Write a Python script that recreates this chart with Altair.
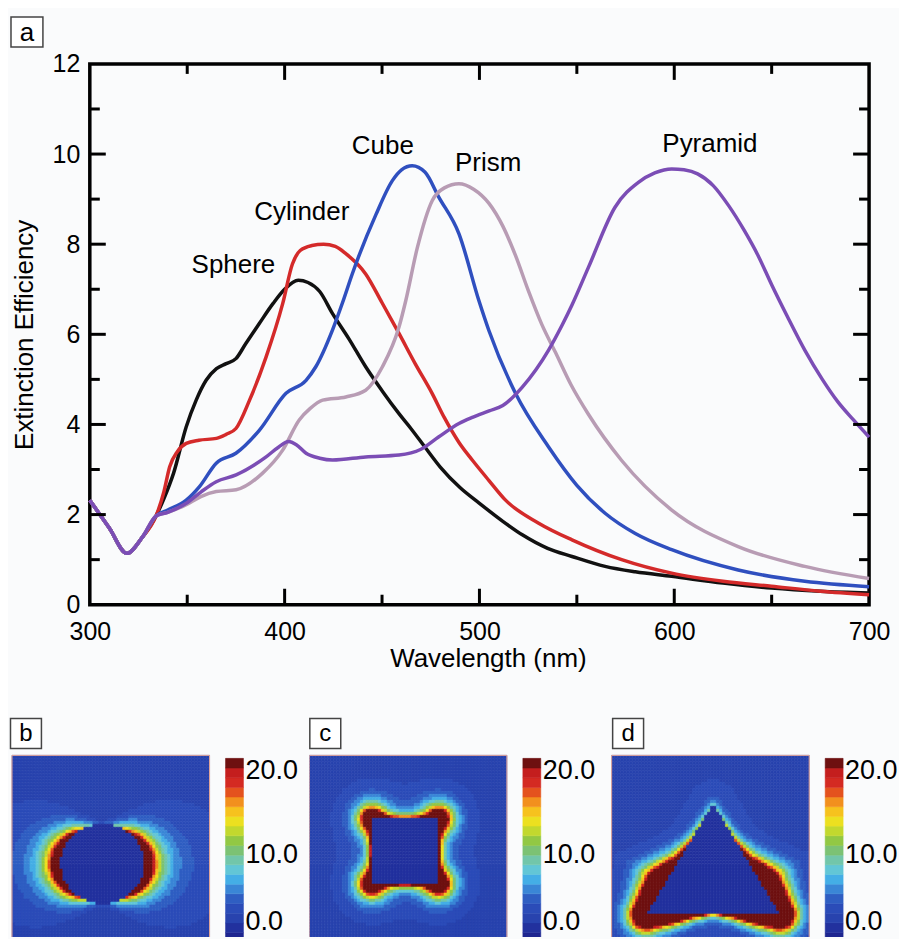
import numpy as np
import pandas as pd
import altair as alt

alt.data_transformers.disable_max_rows()

FONT = "Liberation Sans"

# ---------------------------------------------------------------- panel a data
SERIES = ["Sphere", "Cylinder", "Cube", "Prism", "Pyramid"]
SERIES_COLORS = ["#111111", "#d42a2a", "#2f4fbf", "#b89cb4", "#7b4db5"]

SPHERE_WL = [300, 310, 319, 327, 334, 338, 343, 349.5, 354.6, 359.7, 365, 370, 375, 380, 387, 394, 400,
             407, 412, 418, 424.6, 433, 441.6, 450, 458.7, 465, 472, 480, 490, 500, 512,
             522, 535, 547.5, 564.5, 580, 598.7, 625, 649.9, 675, 700]
SPHERE_EXT = [2.32, 1.7, 1.14, 1.5, 1.97, 2.35, 2.92, 3.95, 4.54, 4.98, 5.24, 5.35, 5.46, 5.79, 6.24, 6.68,
              7.0, 7.2, 7.15, 6.95, 6.46, 5.9, 5.28, 4.75, 4.24, 3.9, 3.5, 3.05, 2.6, 2.25, 1.85,
              1.55, 1.25, 1.07, 0.85, 0.73, 0.63, 0.48, 0.37, 0.3, 0.26]

CYLINDER_WL = [300, 310, 319, 327, 334, 338, 341, 345, 349.5, 356, 365, 370, 375, 382, 390.5, 399, 404, 408,
               414, 420, 426, 431.4, 441.6, 450, 458.7, 467, 475.7, 482, 489.5, 496.3, 505, 513.4, 530.4,
               547.5, 573, 598.7, 625, 649.9, 675, 700]
CYLINDER_EXT = [2.32, 1.7, 1.14, 1.5, 1.97, 2.5, 3.06, 3.4, 3.58, 3.65, 3.69, 3.78, 3.91, 4.54, 5.5, 6.68,
                7.56, 7.86, 7.97, 8.0, 7.95, 7.79, 7.34, 6.7, 6.02, 5.35, 4.69, 4.15, 3.6, 3.21, 2.75,
                2.32, 1.81, 1.44, 1.0, 0.7, 0.52, 0.41, 0.3, 0.22]

CUBE_WL = [300, 310, 319, 327, 334, 340, 349.5, 356.3, 364.9, 375, 387, 400.7, 411, 416, 424.6, 429.7,
           434.8, 446.8, 455.3, 460, 465.5, 472, 479.2, 489.5, 499.7, 504.8, 518.5, 535.5, 550, 564.5,
           580, 598.7, 632.8, 667, 700]
CUBE_EXT = [2.32, 1.7, 1.14, 1.5, 1.97, 2.1, 2.32, 2.62, 3.14, 3.36, 3.87, 4.69, 4.98, 5.28, 6.1, 6.7,
            7.35, 8.65, 9.41, 9.65, 9.74, 9.6, 9.04, 8.23, 6.75, 6.09, 4.69, 3.5, 2.65, 2.03, 1.58, 1.22,
            0.77, 0.52, 0.4]

PRISM_WL = [300, 310, 319, 327, 334, 340, 349.5, 357, 364.9, 375.1, 388.7, 399, 407.5, 413, 419.5, 431.4,
            441.6, 450.2, 458.7, 462.2, 468, 475.8, 482, 489.5, 497, 505, 512, 518.5, 525, 532,
            539, 547, 556, 573, 598.7, 632.8, 667, 700]
PRISM_EXT = [2.32, 1.7, 1.14, 1.5, 1.97, 2.05, 2.22, 2.4, 2.51, 2.55, 2.92, 3.43, 4.1, 4.35, 4.54, 4.61,
             4.76, 5.28, 6.16, 6.75, 7.9, 8.97, 9.25, 9.34, 9.22, 8.9, 8.4, 7.75, 6.98, 6.22,
             5.6, 4.88, 4.22, 3.2, 2.1, 1.29, 0.85, 0.58]

PYRAMID_WL = [300, 310, 319, 327, 334, 340, 349.5, 357, 364.9, 375.1, 390.5, 397, 402, 406, 411, 418,
              424.6, 441.6, 458.7, 470, 479, 489.5, 496, 505, 512, 522, 535.5, 542.4, 547.5, 556, 569.6,
              581.6, 590, 598.7, 605, 612, 620, 628, 636, 643, 650, 658, 667, 676, 684, 692, 700]
PYRAMID_EXT = [2.32, 1.7, 1.14, 1.5, 1.97, 2.05, 2.25, 2.5, 2.73, 2.88, 3.28, 3.5, 3.62, 3.55, 3.36, 3.25,
               3.21, 3.28, 3.32, 3.45, 3.72, 4.02, 4.15, 4.3, 4.42, 4.83, 5.65, 6.2, 6.65, 7.49, 8.82,
               9.37, 9.58, 9.67, 9.65, 9.56, 9.3, 8.85, 8.3, 7.75, 7.1, 6.4, 5.65, 5.0, 4.5, 4.1, 3.72]

ANNOT_TEXT = ["Sphere", "Cylinder", "Cube", "Prism", "Pyramid"]
ANNOT_WL = [373.7, 408.8, 450.4, 504.5, 618.3]
ANNOT_EXT = [7.37, 8.54, 10.0, 9.63, 10.04]

X_DOMAIN = [300, 700]
Y_DOMAIN = [0, 12]
X_LABELS = [300, 400, 500, 600, 700]
Y_LABELS = [0, 2, 4, 6, 8, 10, 12]
X_MAJOR_TICKS = [400, 500, 600]
X_MINOR_TICKS = [350, 450, 550, 650]
Y_MAJOR_TICKS = [2, 4, 6, 8, 10]
Y_MINOR_TICKS = [1, 3, 5, 7, 9, 11]

# ---------------------------------------------------------------- panels b-d data
CB_LEVELS = list(range(0, 20))
CB_COLORS = ["#1b1f7e", "#1e2690", "#22319e", "#2843ae", "#2b4cb8", "#2f5ec2", "#3a86d6", "#44aee6",
             "#62c6d6", "#72c6aa", "#7cc274", "#92c844", "#c2d82e", "#ece020", "#f6c21e", "#f2901e",
             "#e4521e", "#d42a22", "#c41e1e", "#6e1010"]
CB_TICKS = [0, 10, 20]
CB_TICK_TEXT = ["0.0", "10.0", "20.0"]

BACKGROUND = 3.6   # far-field level
INTERIOR = 2.5     # inside the particle
HALO_AMP, HALO_LEN = 2.0, 15.0

# geometry (pixel units inside the map, y downwards)
SPHERE_CENTER = (91.0, 109.0)
SPHERE_RADII = (42.0, 40.0)
SPHERE_GAIN = 2.8

SQUARE = (63.0, 130.0, 64.0, 129.0)        # left, right, top, bottom
CUBE_EDGE_AMP, CUBE_EDGE_LEN = 18.0, 3.5
CUBE_CORNER_AMP, CUBE_CORNER_LEN = 45.0, 8.0

TRIANGLE = [(102.0, 49.0), (35.3, 159.7), (168.7, 159.7)]   # apex, base-left, base-right
SIDE_T = [0.0, 0.1, 0.3, 0.5, 0.72, 1.0]
SIDE_AMP = [4, 6, 10, 24, 90, 98]
SIDE_LEN = [2.5, 3, 4, 8, 10.5, 7.6]
BASE_U = [0.0, 0.3, 0.6, 1.0]
BASE_AMP = [9, 25, 60, 98]
BASE_LEN = [3.5, 4.5, 6.0, 7.6]

N_COLS, N_ROWS = 66, 61
CELL_PX = 3.0

PX, PY = np.meshgrid((np.arange(N_COLS) + 0.5) * CELL_PX, (np.arange(N_ROWS) + 0.5) * CELL_PX)
JJ, II = np.meshgrid(np.arange(N_ROWS), np.arange(N_COLS), indexing="ij")


def sphere_field():
    cx, cy = SPHERE_CENTER
    rx, ry = SPHERE_RADII
    dx, dy = (PX - cx) / rx, (PY - cy) / ry
    r = np.maximum(np.hypot(dx, dy), 1e-6)
    c, s = dx / r, dy / r
    k = SPHERE_GAIN / r ** 3
    ex = 1 + k * (3 * c * c - 1)
    ey = 3 * k * c * s
    v = np.maximum(BACKGROUND - 1 + ex ** 2 + ey ** 2, 3.0)
    v = np.where(r < 1, INTERIOR, v)
    return np.clip(v, 0, 25)


def cube_field():
    l, r, t, b = SQUARE
    ox = np.maximum(np.maximum(l - PX, PX - r), 0)
    oy = np.maximum(np.maximum(t - PY, PY - b), 0)
    d = np.hypot(ox, oy)
    corner = sum(np.exp(-np.hypot(PX - x, PY - y) / CUBE_CORNER_LEN) for x in (l, r) for y in (t, b))
    v = (BACKGROUND + CUBE_EDGE_AMP * np.exp(-d / CUBE_EDGE_LEN) + CUBE_CORNER_AMP * corner
         + HALO_AMP * np.exp(-d / HALO_LEN))
    v = np.where(d == 0, INTERIOR, v)
    return np.clip(v, 0, 25)


def _segment(p0, p1):
    ax, ay = p0
    vx, vy = p1[0] - ax, p1[1] - ay
    t = np.clip(((PX - ax) * vx + (PY - ay) * vy) / (vx * vx + vy * vy), 0, 1)
    d = np.hypot(PX - (ax + t * vx), PY - (ay + t * vy))
    return t, d


def triangle_field():
    apex, bl, br = TRIANGLE
    tl, dl = _segment(apex, bl)
    tr, dr = _segment(apex, br)
    tb, db = _segment(bl, br)
    cl = np.interp(tl, SIDE_T, SIDE_AMP) * np.exp(-dl / np.interp(tl, SIDE_T, SIDE_LEN))
    cr = np.interp(tr, SIDE_T, SIDE_AMP) * np.exp(-dr / np.interp(tr, SIDE_T, SIDE_LEN))
    u = np.abs(2 * tb - 1)
    cb = np.interp(u, BASE_U, BASE_AMP) * np.exp(-db / np.interp(u, BASE_U, BASE_LEN))
    dmin = np.minimum(np.minimum(dl, dr), db)
    v = BACKGROUND + np.maximum(np.maximum(cl, cr), cb) + HALO_AMP * np.exp(-dmin / HALO_LEN)

    def cross(o, a):
        return (a[0] - o[0]) * (PY - o[1]) - (a[1] - o[1]) * (PX - o[0])
    s1, s2, s3 = cross(apex, bl), cross(bl, br), cross(br, apex)
    inside = ((s1 > 0) & (s2 > 0) & (s3 > 0)) | ((s1 < 0) & (s2 < 0) & (s3 < 0))
    v = np.where(inside, INTERIOR, v)
    return np.clip(v, 0, 25)


# ---------------------------------------------------------------- panel a chart
# the view spans from the panel-letter box to the right frame; the plot frame sits inside it
TOP_W, TOP_H = 861, 590
PX0, PX1, PY0, PY1 = 80, 861, 48, 590

rows = []
for name, wl, ext in zip(SERIES,
                         [SPHERE_WL, CYLINDER_WL, CUBE_WL, PRISM_WL, PYRAMID_WL],
                         [SPHERE_EXT, CYLINDER_EXT, CUBE_EXT, PRISM_EXT, PYRAMID_EXT]):
    for a, b in zip(wl, ext):
        rows.append({"shape": name, "wl": a, "ext": b})
curves = pd.DataFrame(rows)

xsc = alt.Scale(domain=X_DOMAIN, range=[PX0, PX1], nice=False, zero=False)
ysc = alt.Scale(domain=Y_DOMAIN, range=[PY1, PY0], nice=False, zero=False)

x_axis = alt.Axis(values=X_LABELS, title="Wavelength (nm)", domain=False, ticks=False, tickSize=0,
                  grid=False, labelFontSize=25, labelFont=FONT, labelPadding=15, labelFlush=False,
                  labelOverlap=False, labelColor="black", format="d",
                  titleFontSize=26, titleFont=FONT, titleFontWeight="normal", titleColor="black",
                  titleX=479, titleY=62, titleBaseline="alphabetic")
y_axis = alt.Axis(values=Y_LABELS, title="Extinction Efficiency", domain=False, ticks=False, tickSize=0,
                  grid=False, labelFontSize=25, labelFont=FONT, labelPadding=10, labelFlush=False,
                  labelOverlap=False, labelColor="black", format="d", offset=-PX0,
                  titleFontSize=26, titleFont=FONT, titleFontWeight="normal", titleColor="black",
                  titleX=-57, titleBaseline="alphabetic")

layers = []
frame_df = pd.DataFrame({"wl": [X_DOMAIN[0]], "wl2": [X_DOMAIN[1]], "ext": [Y_DOMAIN[0]], "ext2": [Y_DOMAIN[1]]})
layers.append(
    alt.Chart(frame_df).mark_rect(fillOpacity=0, stroke="black", strokeWidth=3.5).encode(
        x=alt.X("wl:Q", scale=xsc, axis=x_axis), x2="wl2:Q",
        y=alt.Y("ext:Q", scale=ysc, axis=y_axis), y2="ext2:Q")
)
for name, col in zip(SERIES, SERIES_COLORS):
    layers.append(
        alt.Chart(curves).transform_filter(alt.datum.shape == name)
        .mark_line(color=col, strokeWidth=3.5, interpolate="monotone")
        .encode(x=alt.X("wl:Q", scale=xsc), y=alt.Y("ext:Q", scale=ysc))
    )

annot = pd.DataFrame({"label": ANNOT_TEXT, "wl": ANNOT_WL, "ext": ANNOT_EXT})
layers.append(
    alt.Chart(annot).mark_text(font=FONT, fontSize=26, align="center", baseline="alphabetic", color="black")
    .encode(x=alt.X("wl:Q", scale=xsc), y=alt.Y("ext:Q", scale=ysc), text="label:N")
)


def xticks(vals, length, top):
    df = pd.DataFrame({"wl": vals})
    y0 = PY0 if top else PY1
    y1 = PY0 + length if top else PY1 - length
    return alt.Chart(df).mark_rule(color="black", strokeWidth=3).encode(
        x=alt.X("wl:Q", scale=xsc), y=alt.value(y0), y2=alt.value(y1))


def yticks(vals, length, right):
    df = pd.DataFrame({"ext": vals})
    x0 = PX1 if right else PX0
    x1 = PX1 - length if right else PX0 + length
    return alt.Chart(df).mark_rule(color="black", strokeWidth=3).encode(
        y=alt.Y("ext:Q", scale=ysc), x=alt.value(x0), x2=alt.value(x1))


for top in (False, True):
    layers.append(xticks(X_MAJOR_TICKS, 16, top))
    layers.append(xticks(X_MINOR_TICKS, 10, top))
for right in (False, True):
    layers.append(yticks(Y_MAJOR_TICKS, 16, right))
    layers.append(yticks(Y_MINOR_TICKS, 10, right))

one = alt.Data(values=[{"t": "a"}])
layers.append(alt.Chart(one).mark_rect(fill="white", stroke="#444444", strokeWidth=1.5).encode(
    x=alt.value(1), x2=alt.value(33), y=alt.value(1), y2=alt.value(31)))
layers.append(alt.Chart(one).mark_text(font=FONT, fontSize=26, align="center", baseline="alphabetic",
                                       color="black").encode(x=alt.value(17), y=alt.value(25), text="t:N"))

top_chart = alt.layer(*layers).properties(
    width=TOP_W, height=TOP_H, view=alt.ViewBackground(stroke="transparent", fill="transparent"))

# ---------------------------------------------------------------- panels b-d charts
cscale = alt.Scale(type="threshold", domain=CB_LEVELS[1:], range=CB_COLORS)
PANEL_W, PANEL_H = 290, 220
MAP_Y0 = 38
MAP_W, MAP_H = N_COLS * CELL_PX, N_ROWS * CELL_PX
CB_GAP, CB_THICK = 16, 18
cb_y = alt.Scale(domain=[0, 20], range=[235, 41], nice=False, zero=False)
cb_ticks = pd.DataFrame({"val": CB_TICKS, "txt": CB_TICK_TEXT})


def field_panel(letter, field, map_x0, box_x0):
    cb_x0 = map_x0 + MAP_W + CB_GAP
    cb_x1 = cb_x0 + CB_THICK
    df = pd.DataFrame({"i": II.ravel(), "j": JJ.ravel(), "v": np.round(field.ravel(), 2)})
    heat = alt.Chart(df).mark_rect(strokeWidth=0.6, clip=True).encode(
        x=alt.X("i:O", axis=None,
                scale=alt.Scale(paddingInner=0, paddingOuter=0, range=[map_x0, map_x0 + MAP_W])),
        y=alt.Y("j:O", axis=None,
                scale=alt.Scale(paddingInner=0, paddingOuter=0, range=[MAP_Y0, MAP_Y0 + MAP_H])),
        color=alt.Color("v:Q", scale=cscale, legend=None),
        stroke=alt.Stroke("v:Q", scale=cscale, legend=None),
    )
    cbdf = pd.DataFrame({"lo": CB_LEVELS, "hi": [l + 1 for l in CB_LEVELS],
                         "v": [l + 0.5 for l in CB_LEVELS]})
    cbar = alt.Chart(cbdf).mark_rect(strokeWidth=0.5, clip=True).encode(
        x=alt.value(cb_x0), x2=alt.value(cb_x1),
        y=alt.Y("lo:Q", scale=cb_y, axis=None),
        y2="hi:Q",
        color=alt.Color("v:Q", scale=cscale, legend=None),
        stroke=alt.Stroke("v:Q", scale=cscale, legend=None),
    )
    lab_layers = []
    for val, base, dy in ((20, "top", 0), (10, "middle", 0), (0, "bottom", -16)):
        lab_layers.append(
            alt.Chart(cb_ticks).transform_filter(alt.datum.val == val)
            .mark_text(font=FONT, fontSize=27, align="left", baseline=base, dy=dy, color="black")
            .encode(x=alt.value(cb_x1 + 2), y=alt.Y("val:Q", scale=cb_y, axis=None), text="txt:N")
        )
    lab = alt.Data(values=[{"t": letter}])
    frame = alt.Chart(lab).mark_rect(fillOpacity=0, stroke="#e8a898", strokeWidth=1, clip=True).encode(
        x=alt.value(map_x0), x2=alt.value(map_x0 + MAP_W), y=alt.value(MAP_Y0), y2=alt.value(PANEL_H + 4))
    box = alt.Chart(lab).mark_rect(fill="white", stroke="#444444", strokeWidth=1.5).encode(
        x=alt.value(box_x0), x2=alt.value(box_x0 + 31), y=alt.value(1), y2=alt.value(31))
    txt = alt.Chart(lab).mark_text(font=FONT, fontSize=24, align="center", baseline="alphabetic",
                                   color="black").encode(x=alt.value(box_x0 + 15.5), y=alt.value(24), text="t:N")
    return alt.layer(heat, cbar, *lab_layers, frame, box, txt).resolve_scale(y="independent").properties(
        width=PANEL_W, height=PANEL_H, view=alt.ViewBackground(stroke="transparent", fill="transparent"))


bottom = alt.hconcat(field_panel("b", sphere_field(), 2, 0.5),
                     field_panel("c", cube_field(), 0, 0.5),
                     field_panel("d", triangle_field(), 3, 4),
                     spacing=8)

chart = alt.concat(top_chart, bottom, columns=1, spacing=44).properties(
    padding={"left": 1, "top": 6, "right": 0, "bottom": 0}
).configure(background="#fafbfc", font=FONT)

chart.save("out.html", embed_options={"renderer": "svg", "actions": False})
